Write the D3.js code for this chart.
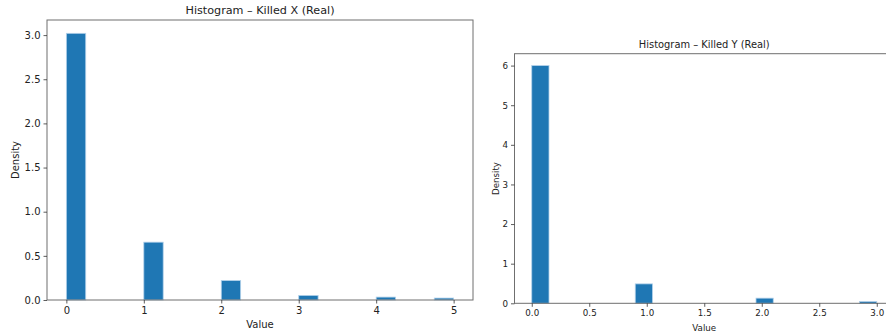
<!DOCTYPE html>
<html>
<head>
<meta charset="utf-8">
<script src="https://cdn.jsdelivr.net/npm/d3@7"></script>
<style>
  html, body { margin: 0; padding: 0; background: #fff; }
  svg { display: block; font-family: "DejaVu Sans", sans-serif; }
</style>
</head>
<body>
<svg id="chart" width="886" height="335"></svg>
<script>
// Killed X: 20 equal bins over [0, 5], density per bin
const binsX = 20;
const rangeX = [0, 5];
const densityX = [3.02, 0, 0, 0, 0.655, 0, 0, 0, 0.22, 0, 0, 0, 0.052, 0, 0, 0, 0.033, 0, 0, 0.022];
const xTicksX = [0, 1, 2, 3, 4, 5];
const yTicksX = [0.0, 0.5, 1.0, 1.5, 2.0, 2.5, 3.0];

// Killed Y: 20 equal bins over [0, 3], density per bin
const binsY = 20;
const rangeY = [0, 3];
const densityY = [6.0, 0, 0, 0, 0, 0, 0.49, 0, 0, 0, 0, 0, 0, 0.13, 0, 0, 0, 0, 0, 0.045];
const xTicksY = [0.0, 0.5, 1.0, 1.5, 2.0, 2.5, 3.0];
const yTicksY = [0, 1, 2, 3, 4, 5, 6];

const svg = d3.select("#chart");

function histogram(cfg) {
  const { left, top, width, height, bins, range, density, xTicks, yTicks,
          xFmt, yFmt, title, titleSize, tickSize, labelSize, yLabelX } = cfg;
  const step = (range[1] - range[0]) / bins;
  const pad = (range[1] - range[0]) * 0.05;
  const ymax = d3.max(density) * 1.05;

  const x = d3.scaleLinear().domain([range[0] - pad, range[1] + pad]).range([left, left + width]);
  const y = d3.scaleLinear().domain([0, ymax]).range([top + height, top]);

  const g = svg.append("g");

  const data = density.map((d, i) => ({ x0: range[0] + i * step, x1: range[0] + (i + 1) * step, d }))
                      .filter(b => b.d > 0);

  g.selectAll("rect.bar").data(data).join("rect")
    .attr("class", "bar")
    .attr("x", b => x(b.x0))
    .attr("width", b => x(b.x1) - x(b.x0))
    .attr("y", b => y(b.d))
    .attr("height", b => y(0) - y(b.d))
    .attr("fill", "#1f77b4")
    .attr("stroke", "#b3d1ea")
    .attr("stroke-width", 0.8);

  // frame
  const spine = "#6f6f6f";
  g.append("rect")
    .attr("x", left).attr("y", top).attr("width", width).attr("height", height)
    .attr("fill", "none").attr("stroke", spine).attr("stroke-width", 1);

  const xAxis = g.append("g")
    .attr("transform", `translate(0,${top + height})`)
    .call(d3.axisBottom(x).tickValues(xTicks).tickFormat(xFmt).tickSize(3.5).tickPadding(3));
  const yAxis = g.append("g")
    .attr("transform", `translate(${left},0)`)
    .call(d3.axisLeft(y).tickValues(yTicks).tickFormat(yFmt).tickSize(3.5).tickPadding(3));

  [xAxis, yAxis].forEach(a => {
    a.select(".domain").remove();
    a.selectAll(".tick line").attr("stroke", "#333").attr("stroke-width", 0.8);
    a.selectAll(".tick text").attr("fill", "#222").style("font-size", tickSize + "px")
      .style("font-family", "DejaVu Sans, sans-serif");
  });

  g.append("text")
    .attr("x", left + width / 2).attr("y", top - 6)
    .attr("text-anchor", "middle").attr("fill", "#222")
    .style("font-size", titleSize + "px")
    .text(title);

  g.append("text")
    .attr("x", left + width / 2).attr("y", top + height + 28)
    .attr("text-anchor", "middle").attr("fill", "#222")
    .style("font-size", labelSize + "px")
    .text("Value");

  g.append("text")
    .attr("transform", `translate(${yLabelX},${top + height / 2}) rotate(-90)`)
    .attr("text-anchor", "middle").attr("fill", "#222")
    .style("font-size", labelSize + "px")
    .text("Density");
}

histogram({
  left: 47, top: 20, width: 426, height: 280,
  bins: binsX, range: rangeX, density: densityX,
  xTicks: xTicksX, yTicks: yTicksX,
  xFmt: d3.format("d"), yFmt: d3.format(".1f"),
  title: "Histogram \u2013 Killed X (Real)",
  titleSize: 11.2, tickSize: 10, labelSize: 10, yLabelX: 19
});

histogram({
  left: 514.5, top: 53.7, width: 379.5, height: 249.6,
  bins: binsY, range: rangeY, density: densityY,
  xTicks: xTicksY, yTicks: yTicksY,
  xFmt: d3.format(".1f"), yFmt: d3.format("d"),
  title: "Histogram \u2013 Killed Y (Real)",
  titleSize: 9.9, tickSize: 8.7, labelSize: 8.7, yLabelX: 499
});
</script>
</body>
</html>
